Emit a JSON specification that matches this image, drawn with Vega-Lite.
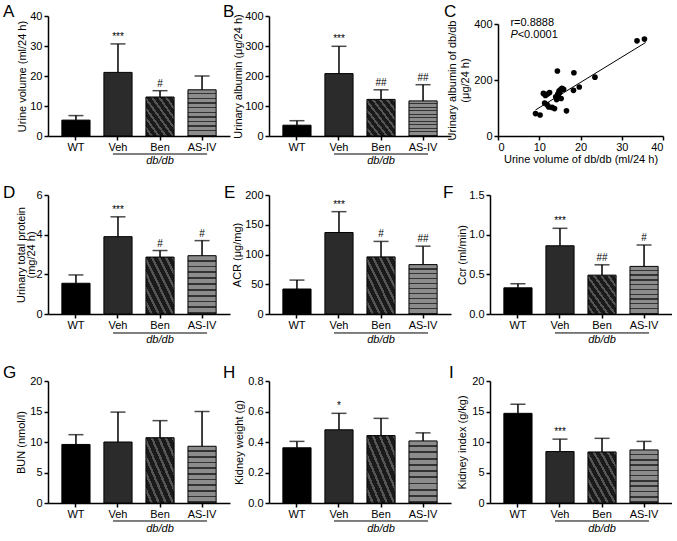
{
"$schema":"https://vega.github.io/schema/vega-lite/v6.json",
"padding":{"left":3,"top":3,"right":0,"bottom":0},
"background":"#ffffff",
"spacing":18,
"vconcat":[
{"hconcat":[
{"width":182,"height":120,
"title":{"text":"A","dx":-45,"dy":15},
"data":{"values":[{"g":"WT","m":5.3,"t":6.8,"s":""},{"g":"Veh","m":21.2,"t":30.7,"s":"***"},{"g":"Ben","m":13.0,"t":15.1,"s":"#"},{"g":"AS-IV","m":15.4,"t":20.0,"s":""}]},
"encoding":{
"x":{"field":"g","type":"nominal","sort":null,"scale":{"domain":["WT","Veh","Ben","AS-IV"],"paddingInner":0.33,"paddingOuter":0.33},"axis":{"title":null}},
"y":{"field":"m","type":"quantitative","scale":{"domain":[0,40]},"axis":{"title":"Urine volume (ml/24 h)","values":[0,10,20,30,40],"titleX":-26}}},
"layer":[
{"mark":{"type":"bar","stroke":"#000","strokeWidth":1},"encoding":{"fill":{"condition":[{"test":"datum.g==='Veh'","value":"#2b2b2b"},{"test":"datum.g==='Ben'","value":{"gradient":"linear","x1":0,"y1":1,"x2":1,"y2":0,"stops":[{"offset":0,"color":"#1a1a1a"},{"offset":0.081,"color":"#1a1a1a"},{"offset":0.081,"color":"#555555"},{"offset":0.125,"color":"#555555"},{"offset":0.125,"color":"#1a1a1a"},{"offset":0.206,"color":"#1a1a1a"},{"offset":0.206,"color":"#555555"},{"offset":0.25,"color":"#555555"},{"offset":0.25,"color":"#1a1a1a"},{"offset":0.331,"color":"#1a1a1a"},{"offset":0.331,"color":"#555555"},{"offset":0.375,"color":"#555555"},{"offset":0.375,"color":"#1a1a1a"},{"offset":0.456,"color":"#1a1a1a"},{"offset":0.456,"color":"#555555"},{"offset":0.5,"color":"#555555"},{"offset":0.5,"color":"#1a1a1a"},{"offset":0.581,"color":"#1a1a1a"},{"offset":0.581,"color":"#555555"},{"offset":0.625,"color":"#555555"},{"offset":0.625,"color":"#1a1a1a"},{"offset":0.706,"color":"#1a1a1a"},{"offset":0.706,"color":"#555555"},{"offset":0.75,"color":"#555555"},{"offset":0.75,"color":"#1a1a1a"},{"offset":0.831,"color":"#1a1a1a"},{"offset":0.831,"color":"#555555"},{"offset":0.875,"color":"#555555"},{"offset":0.875,"color":"#1a1a1a"},{"offset":0.956,"color":"#1a1a1a"},{"offset":0.956,"color":"#555555"},{"offset":1,"color":"#555555"}]}},{"test":"datum.g==='AS-IV'","value":{"gradient":"linear","x1":0,"y1":0,"x2":0,"y2":1,"stops":[{"offset":0,"color":"#8c8c8c"},{"offset":0.07,"color":"#8c8c8c"},{"offset":0.07,"color":"#333333"},{"offset":0.1,"color":"#333333"},{"offset":0.1,"color":"#8c8c8c"},{"offset":0.17,"color":"#8c8c8c"},{"offset":0.17,"color":"#333333"},{"offset":0.2,"color":"#333333"},{"offset":0.2,"color":"#8c8c8c"},{"offset":0.27,"color":"#8c8c8c"},{"offset":0.27,"color":"#333333"},{"offset":0.3,"color":"#333333"},{"offset":0.3,"color":"#8c8c8c"},{"offset":0.37,"color":"#8c8c8c"},{"offset":0.37,"color":"#333333"},{"offset":0.4,"color":"#333333"},{"offset":0.4,"color":"#8c8c8c"},{"offset":0.47,"color":"#8c8c8c"},{"offset":0.47,"color":"#333333"},{"offset":0.5,"color":"#333333"},{"offset":0.5,"color":"#8c8c8c"},{"offset":0.57,"color":"#8c8c8c"},{"offset":0.57,"color":"#333333"},{"offset":0.6,"color":"#333333"},{"offset":0.6,"color":"#8c8c8c"},{"offset":0.67,"color":"#8c8c8c"},{"offset":0.67,"color":"#333333"},{"offset":0.7,"color":"#333333"},{"offset":0.7,"color":"#8c8c8c"},{"offset":0.77,"color":"#8c8c8c"},{"offset":0.77,"color":"#333333"},{"offset":0.8,"color":"#333333"},{"offset":0.8,"color":"#8c8c8c"},{"offset":0.87,"color":"#8c8c8c"},{"offset":0.87,"color":"#333333"},{"offset":0.9,"color":"#333333"},{"offset":0.9,"color":"#8c8c8c"},{"offset":0.97,"color":"#8c8c8c"},{"offset":0.97,"color":"#333333"},{"offset":1,"color":"#333333"}]}}],"value":"#000000"}}},
{"mark":{"type":"rule","color":"#000","strokeWidth":1.5},"encoding":{"y2":{"field":"t"}}},
{"mark":{"type":"tick","color":"#000","size":15,"thickness":1.5},"encoding":{"y":{"field":"t","type":"quantitative"}}},
{"mark":{"type":"text","color":"#000","baseline":"bottom","dy":-2,"fontSize":10},"encoding":{"y":{"field":"t","type":"quantitative"},"text":{"field":"s"}}},
{"transform":[{"filter":"datum.g==='WT'"}],"mark":{"type":"rule","color":"#000","strokeWidth":1,"xOffset":-5,"x2Offset":5,"clip":false},"encoding":{"x":{"datum":"Veh"},"x2":{"datum":"AS-IV"},"y":{"datum":-6}}},
{"transform":[{"filter":"datum.g==='WT'"}],"mark":{"type":"text","color":"#000","fontStyle":"italic","fontSize":11,"baseline":"middle","clip":false},"encoding":{"x":{"datum":"Ben"},"y":{"datum":-8.3},"text":{"value":"db/db"}}}
]},
{"width":182,"height":120,
"title":{"text":"B","dx":-46,"dy":15},
"data":{"values":[{"g":"WT","m":36,"t":51,"s":""},{"g":"Veh","m":208,"t":299,"s":"***"},{"g":"Ben","m":122,"t":154,"s":"##"},{"g":"AS-IV","m":117,"t":171,"s":"##"}]},
"encoding":{
"x":{"field":"g","type":"nominal","sort":null,"scale":{"domain":["WT","Veh","Ben","AS-IV"],"paddingInner":0.33,"paddingOuter":0.33},"axis":{"title":null}},
"y":{"field":"m","type":"quantitative","scale":{"domain":[0,400]},"axis":{"title":"Urinary albumin (μg/24 h)","values":[0,100,200,300,400],"titleX":-31}}},
"layer":[
{"mark":{"type":"bar","stroke":"#000","strokeWidth":1},"encoding":{"fill":{"condition":[{"test":"datum.g==='Veh'","value":"#2b2b2b"},{"test":"datum.g==='Ben'","value":{"gradient":"linear","x1":0,"y1":1,"x2":1,"y2":0,"stops":[{"offset":0,"color":"#1a1a1a"},{"offset":0.081,"color":"#1a1a1a"},{"offset":0.081,"color":"#555555"},{"offset":0.125,"color":"#555555"},{"offset":0.125,"color":"#1a1a1a"},{"offset":0.206,"color":"#1a1a1a"},{"offset":0.206,"color":"#555555"},{"offset":0.25,"color":"#555555"},{"offset":0.25,"color":"#1a1a1a"},{"offset":0.331,"color":"#1a1a1a"},{"offset":0.331,"color":"#555555"},{"offset":0.375,"color":"#555555"},{"offset":0.375,"color":"#1a1a1a"},{"offset":0.456,"color":"#1a1a1a"},{"offset":0.456,"color":"#555555"},{"offset":0.5,"color":"#555555"},{"offset":0.5,"color":"#1a1a1a"},{"offset":0.581,"color":"#1a1a1a"},{"offset":0.581,"color":"#555555"},{"offset":0.625,"color":"#555555"},{"offset":0.625,"color":"#1a1a1a"},{"offset":0.706,"color":"#1a1a1a"},{"offset":0.706,"color":"#555555"},{"offset":0.75,"color":"#555555"},{"offset":0.75,"color":"#1a1a1a"},{"offset":0.831,"color":"#1a1a1a"},{"offset":0.831,"color":"#555555"},{"offset":0.875,"color":"#555555"},{"offset":0.875,"color":"#1a1a1a"},{"offset":0.956,"color":"#1a1a1a"},{"offset":0.956,"color":"#555555"},{"offset":1,"color":"#555555"}]}},{"test":"datum.g==='AS-IV'","value":{"gradient":"linear","x1":0,"y1":0,"x2":0,"y2":1,"stops":[{"offset":0,"color":"#8c8c8c"},{"offset":0.07,"color":"#8c8c8c"},{"offset":0.07,"color":"#333333"},{"offset":0.1,"color":"#333333"},{"offset":0.1,"color":"#8c8c8c"},{"offset":0.17,"color":"#8c8c8c"},{"offset":0.17,"color":"#333333"},{"offset":0.2,"color":"#333333"},{"offset":0.2,"color":"#8c8c8c"},{"offset":0.27,"color":"#8c8c8c"},{"offset":0.27,"color":"#333333"},{"offset":0.3,"color":"#333333"},{"offset":0.3,"color":"#8c8c8c"},{"offset":0.37,"color":"#8c8c8c"},{"offset":0.37,"color":"#333333"},{"offset":0.4,"color":"#333333"},{"offset":0.4,"color":"#8c8c8c"},{"offset":0.47,"color":"#8c8c8c"},{"offset":0.47,"color":"#333333"},{"offset":0.5,"color":"#333333"},{"offset":0.5,"color":"#8c8c8c"},{"offset":0.57,"color":"#8c8c8c"},{"offset":0.57,"color":"#333333"},{"offset":0.6,"color":"#333333"},{"offset":0.6,"color":"#8c8c8c"},{"offset":0.67,"color":"#8c8c8c"},{"offset":0.67,"color":"#333333"},{"offset":0.7,"color":"#333333"},{"offset":0.7,"color":"#8c8c8c"},{"offset":0.77,"color":"#8c8c8c"},{"offset":0.77,"color":"#333333"},{"offset":0.8,"color":"#333333"},{"offset":0.8,"color":"#8c8c8c"},{"offset":0.87,"color":"#8c8c8c"},{"offset":0.87,"color":"#333333"},{"offset":0.9,"color":"#333333"},{"offset":0.9,"color":"#8c8c8c"},{"offset":0.97,"color":"#8c8c8c"},{"offset":0.97,"color":"#333333"},{"offset":1,"color":"#333333"}]}}],"value":"#000000"}}},
{"mark":{"type":"rule","color":"#000","strokeWidth":1.5},"encoding":{"y2":{"field":"t"}}},
{"mark":{"type":"tick","color":"#000","size":15,"thickness":1.5},"encoding":{"y":{"field":"t","type":"quantitative"}}},
{"mark":{"type":"text","color":"#000","baseline":"bottom","dy":-2,"fontSize":10},"encoding":{"y":{"field":"t","type":"quantitative"},"text":{"field":"s"}}},
{"transform":[{"filter":"datum.g==='WT'"}],"mark":{"type":"rule","color":"#000","strokeWidth":1,"xOffset":-5,"x2Offset":5,"clip":false},"encoding":{"x":{"datum":"Veh"},"x2":{"datum":"AS-IV"},"y":{"datum":-60}}},
{"transform":[{"filter":"datum.g==='WT'"}],"mark":{"type":"text","color":"#000","fontStyle":"italic","fontSize":11,"baseline":"middle","clip":false},"encoding":{"x":{"datum":"Ben"},"y":{"datum":-83},"text":{"value":"db/db"}}}
]},
{"width":173,"height":120,
"title":{"text":"C","dx":-46,"dy":9},
"layer":[
{"data":{"values":[{"x":9.1,"y":80},{"x":10.2,"y":75},{"x":11.0,"y":152},{"x":12.0,"y":150},{"x":11.5,"y":145},{"x":12.5,"y":155},{"x":11.3,"y":118},{"x":11.9,"y":112},{"x":12.3,"y":104},{"x":13.1,"y":102},{"x":13.7,"y":98},{"x":14.4,"y":232},{"x":14.0,"y":140},{"x":14.2,"y":130},{"x":14.5,"y":150},{"x":14.8,"y":160},{"x":15.1,"y":165},{"x":15.5,"y":170},{"x":15.9,"y":167},{"x":15.3,"y":134},{"x":16.6,"y":90},{"x":18.4,"y":226},{"x":18.3,"y":163},{"x":19.7,"y":175},{"x":23.5,"y":210},{"x":33.7,"y":340},{"x":35.5,"y":346},{"x":14.6,"y":145},{"x":15.0,"y":155}]},
"mark":{"type":"circle","size":32,"color":"#000","opacity":1},
"encoding":{
"x":{"field":"x","type":"quantitative","scale":{"domain":[0,40],"range":[8,173]},"axis":{"title":"Urine volume of db/db (ml/24 h)","values":[0,10,20,30,40],"titlePadding":1}},
"y":{"field":"y","type":"quantitative","scale":{"domain":[0,400],"range":[120,8]},"axis":{"title":["Urinary albumin of db/db","(μg/24 h)"],"values":[0,100,200,300,400],"offset":-8,"titleX":-46,"titleLineHeight":13}}}},
{"data":{"values":[{"x":9.1,"y":93},{"x":35.8,"y":334}]},"mark":{"type":"line","color":"#000","strokeWidth":1},"encoding":{"x":{"field":"x","type":"quantitative"},"y":{"field":"y","type":"quantitative"}}},
{"data":{"values":[{"x":3,"y":402,"l":"r=0.8888"}]},"mark":{"type":"text","color":"#000","align":"left","baseline":"middle","fontSize":11},"encoding":{"x":{"field":"x","type":"quantitative"},"y":{"field":"y","type":"quantitative"},"text":{"field":"l"}}},
{"data":{"values":[{"x":3,"y":362,"l":"P"}]},"mark":{"type":"text","color":"#000","align":"left","baseline":"middle","fontSize":11,"fontStyle":"italic"},"encoding":{"x":{"field":"x","type":"quantitative"},"y":{"field":"y","type":"quantitative"},"text":{"field":"l"}}},
{"data":{"values":[{"x":3,"y":362,"l":"<0.0001"}]},"mark":{"type":"text","color":"#000","align":"left","baseline":"middle","fontSize":11,"dx":7.3},"encoding":{"x":{"field":"x","type":"quantitative"},"y":{"field":"y","type":"quantitative"},"text":{"field":"l"}}}
]}
],"spacing":39,"bounds":"flush"},
{"hconcat":[
{"width":182,"height":119,
"title":{"text":"D","dx":-45,"dy":17},
"data":{"values":[{"g":"WT","m":1.55,"t":1.97,"s":""},{"g":"Veh","m":3.9,"t":4.9,"s":"***"},{"g":"Ben","m":2.87,"t":3.2,"s":"#"},{"g":"AS-IV","m":2.94,"t":3.7,"s":"#"}]},
"encoding":{
"x":{"field":"g","type":"nominal","sort":null,"scale":{"domain":["WT","Veh","Ben","AS-IV"],"paddingInner":0.33,"paddingOuter":0.33},"axis":{"title":null}},
"y":{"field":"m","type":"quantitative","scale":{"domain":[0,6]},"axis":{"title":["Urinary total protein","(mg/24 h)"],"values":[0,2,4,6],"titleX":-27,"titleLineHeight":10.5}}},
"layer":[
{"mark":{"type":"bar","stroke":"#000","strokeWidth":1},"encoding":{"fill":{"condition":[{"test":"datum.g==='Veh'","value":"#2b2b2b"},{"test":"datum.g==='Ben'","value":{"gradient":"linear","x1":0,"y1":1,"x2":1,"y2":0,"stops":[{"offset":0,"color":"#1a1a1a"},{"offset":0.081,"color":"#1a1a1a"},{"offset":0.081,"color":"#555555"},{"offset":0.125,"color":"#555555"},{"offset":0.125,"color":"#1a1a1a"},{"offset":0.206,"color":"#1a1a1a"},{"offset":0.206,"color":"#555555"},{"offset":0.25,"color":"#555555"},{"offset":0.25,"color":"#1a1a1a"},{"offset":0.331,"color":"#1a1a1a"},{"offset":0.331,"color":"#555555"},{"offset":0.375,"color":"#555555"},{"offset":0.375,"color":"#1a1a1a"},{"offset":0.456,"color":"#1a1a1a"},{"offset":0.456,"color":"#555555"},{"offset":0.5,"color":"#555555"},{"offset":0.5,"color":"#1a1a1a"},{"offset":0.581,"color":"#1a1a1a"},{"offset":0.581,"color":"#555555"},{"offset":0.625,"color":"#555555"},{"offset":0.625,"color":"#1a1a1a"},{"offset":0.706,"color":"#1a1a1a"},{"offset":0.706,"color":"#555555"},{"offset":0.75,"color":"#555555"},{"offset":0.75,"color":"#1a1a1a"},{"offset":0.831,"color":"#1a1a1a"},{"offset":0.831,"color":"#555555"},{"offset":0.875,"color":"#555555"},{"offset":0.875,"color":"#1a1a1a"},{"offset":0.956,"color":"#1a1a1a"},{"offset":0.956,"color":"#555555"},{"offset":1,"color":"#555555"}]}},{"test":"datum.g==='AS-IV'","value":{"gradient":"linear","x1":0,"y1":0,"x2":0,"y2":1,"stops":[{"offset":0,"color":"#8c8c8c"},{"offset":0.07,"color":"#8c8c8c"},{"offset":0.07,"color":"#333333"},{"offset":0.1,"color":"#333333"},{"offset":0.1,"color":"#8c8c8c"},{"offset":0.17,"color":"#8c8c8c"},{"offset":0.17,"color":"#333333"},{"offset":0.2,"color":"#333333"},{"offset":0.2,"color":"#8c8c8c"},{"offset":0.27,"color":"#8c8c8c"},{"offset":0.27,"color":"#333333"},{"offset":0.3,"color":"#333333"},{"offset":0.3,"color":"#8c8c8c"},{"offset":0.37,"color":"#8c8c8c"},{"offset":0.37,"color":"#333333"},{"offset":0.4,"color":"#333333"},{"offset":0.4,"color":"#8c8c8c"},{"offset":0.47,"color":"#8c8c8c"},{"offset":0.47,"color":"#333333"},{"offset":0.5,"color":"#333333"},{"offset":0.5,"color":"#8c8c8c"},{"offset":0.57,"color":"#8c8c8c"},{"offset":0.57,"color":"#333333"},{"offset":0.6,"color":"#333333"},{"offset":0.6,"color":"#8c8c8c"},{"offset":0.67,"color":"#8c8c8c"},{"offset":0.67,"color":"#333333"},{"offset":0.7,"color":"#333333"},{"offset":0.7,"color":"#8c8c8c"},{"offset":0.77,"color":"#8c8c8c"},{"offset":0.77,"color":"#333333"},{"offset":0.8,"color":"#333333"},{"offset":0.8,"color":"#8c8c8c"},{"offset":0.87,"color":"#8c8c8c"},{"offset":0.87,"color":"#333333"},{"offset":0.9,"color":"#333333"},{"offset":0.9,"color":"#8c8c8c"},{"offset":0.97,"color":"#8c8c8c"},{"offset":0.97,"color":"#333333"},{"offset":1,"color":"#333333"}]}}],"value":"#000000"}}},
{"mark":{"type":"rule","color":"#000","strokeWidth":1.5},"encoding":{"y2":{"field":"t"}}},
{"mark":{"type":"tick","color":"#000","size":15,"thickness":1.5},"encoding":{"y":{"field":"t","type":"quantitative"}}},
{"mark":{"type":"text","color":"#000","baseline":"bottom","dy":-2,"fontSize":10},"encoding":{"y":{"field":"t","type":"quantitative"},"text":{"field":"s"}}},
{"transform":[{"filter":"datum.g==='WT'"}],"mark":{"type":"rule","color":"#000","strokeWidth":1,"xOffset":-5,"x2Offset":5,"clip":false},"encoding":{"x":{"datum":"Veh"},"x2":{"datum":"AS-IV"},"y":{"datum":-0.958}}},
{"transform":[{"filter":"datum.g==='WT'"}],"mark":{"type":"text","color":"#000","fontStyle":"italic","fontSize":11,"baseline":"middle","clip":false},"encoding":{"x":{"datum":"Ben"},"y":{"datum":-1.31},"text":{"value":"db/db"}}}
]},
{"width":182,"height":119,
"title":{"text":"E","dx":-45,"dy":17},
"data":{"values":[{"g":"WT","m":42,"t":57,"s":""},{"g":"Veh","m":137,"t":172,"s":"***"},{"g":"Ben","m":96,"t":122,"s":"#"},{"g":"AS-IV","m":83,"t":114,"s":"##"}]},
"encoding":{
"x":{"field":"g","type":"nominal","sort":null,"scale":{"domain":["WT","Veh","Ben","AS-IV"],"paddingInner":0.33,"paddingOuter":0.33},"axis":{"title":null}},
"y":{"field":"m","type":"quantitative","scale":{"domain":[0,200]},"axis":{"title":"ACR (μg/mg)","values":[0,50,100,150,200],"titleX":-32}}},
"layer":[
{"mark":{"type":"bar","stroke":"#000","strokeWidth":1},"encoding":{"fill":{"condition":[{"test":"datum.g==='Veh'","value":"#2b2b2b"},{"test":"datum.g==='Ben'","value":{"gradient":"linear","x1":0,"y1":1,"x2":1,"y2":0,"stops":[{"offset":0,"color":"#1a1a1a"},{"offset":0.081,"color":"#1a1a1a"},{"offset":0.081,"color":"#555555"},{"offset":0.125,"color":"#555555"},{"offset":0.125,"color":"#1a1a1a"},{"offset":0.206,"color":"#1a1a1a"},{"offset":0.206,"color":"#555555"},{"offset":0.25,"color":"#555555"},{"offset":0.25,"color":"#1a1a1a"},{"offset":0.331,"color":"#1a1a1a"},{"offset":0.331,"color":"#555555"},{"offset":0.375,"color":"#555555"},{"offset":0.375,"color":"#1a1a1a"},{"offset":0.456,"color":"#1a1a1a"},{"offset":0.456,"color":"#555555"},{"offset":0.5,"color":"#555555"},{"offset":0.5,"color":"#1a1a1a"},{"offset":0.581,"color":"#1a1a1a"},{"offset":0.581,"color":"#555555"},{"offset":0.625,"color":"#555555"},{"offset":0.625,"color":"#1a1a1a"},{"offset":0.706,"color":"#1a1a1a"},{"offset":0.706,"color":"#555555"},{"offset":0.75,"color":"#555555"},{"offset":0.75,"color":"#1a1a1a"},{"offset":0.831,"color":"#1a1a1a"},{"offset":0.831,"color":"#555555"},{"offset":0.875,"color":"#555555"},{"offset":0.875,"color":"#1a1a1a"},{"offset":0.956,"color":"#1a1a1a"},{"offset":0.956,"color":"#555555"},{"offset":1,"color":"#555555"}]}},{"test":"datum.g==='AS-IV'","value":{"gradient":"linear","x1":0,"y1":0,"x2":0,"y2":1,"stops":[{"offset":0,"color":"#8c8c8c"},{"offset":0.07,"color":"#8c8c8c"},{"offset":0.07,"color":"#333333"},{"offset":0.1,"color":"#333333"},{"offset":0.1,"color":"#8c8c8c"},{"offset":0.17,"color":"#8c8c8c"},{"offset":0.17,"color":"#333333"},{"offset":0.2,"color":"#333333"},{"offset":0.2,"color":"#8c8c8c"},{"offset":0.27,"color":"#8c8c8c"},{"offset":0.27,"color":"#333333"},{"offset":0.3,"color":"#333333"},{"offset":0.3,"color":"#8c8c8c"},{"offset":0.37,"color":"#8c8c8c"},{"offset":0.37,"color":"#333333"},{"offset":0.4,"color":"#333333"},{"offset":0.4,"color":"#8c8c8c"},{"offset":0.47,"color":"#8c8c8c"},{"offset":0.47,"color":"#333333"},{"offset":0.5,"color":"#333333"},{"offset":0.5,"color":"#8c8c8c"},{"offset":0.57,"color":"#8c8c8c"},{"offset":0.57,"color":"#333333"},{"offset":0.6,"color":"#333333"},{"offset":0.6,"color":"#8c8c8c"},{"offset":0.67,"color":"#8c8c8c"},{"offset":0.67,"color":"#333333"},{"offset":0.7,"color":"#333333"},{"offset":0.7,"color":"#8c8c8c"},{"offset":0.77,"color":"#8c8c8c"},{"offset":0.77,"color":"#333333"},{"offset":0.8,"color":"#333333"},{"offset":0.8,"color":"#8c8c8c"},{"offset":0.87,"color":"#8c8c8c"},{"offset":0.87,"color":"#333333"},{"offset":0.9,"color":"#333333"},{"offset":0.9,"color":"#8c8c8c"},{"offset":0.97,"color":"#8c8c8c"},{"offset":0.97,"color":"#333333"},{"offset":1,"color":"#333333"}]}}],"value":"#000000"}}},
{"mark":{"type":"rule","color":"#000","strokeWidth":1.5},"encoding":{"y2":{"field":"t"}}},
{"mark":{"type":"tick","color":"#000","size":15,"thickness":1.5},"encoding":{"y":{"field":"t","type":"quantitative"}}},
{"mark":{"type":"text","color":"#000","baseline":"bottom","dy":-2,"fontSize":10},"encoding":{"y":{"field":"t","type":"quantitative"},"text":{"field":"s"}}},
{"transform":[{"filter":"datum.g==='WT'"}],"mark":{"type":"rule","color":"#000","strokeWidth":1,"xOffset":-5,"x2Offset":5,"clip":false},"encoding":{"x":{"datum":"Veh"},"x2":{"datum":"AS-IV"},"y":{"datum":-31.9}}},
{"transform":[{"filter":"datum.g==='WT'"}],"mark":{"type":"text","color":"#000","fontStyle":"italic","fontSize":11,"baseline":"middle","clip":false},"encoding":{"x":{"datum":"Ben"},"y":{"datum":-43.7},"text":{"value":"db/db"}}}
]},
{"width":182,"height":119,
"title":{"text":"F","dx":-47,"dy":17},
"data":{"values":[{"g":"WT","m":0.33,"t":0.38,"s":""},{"g":"Veh","m":0.86,"t":1.08,"s":"***"},{"g":"Ben","m":0.49,"t":0.62,"s":"##"},{"g":"AS-IV","m":0.6,"t":0.87,"s":"#"}]},
"encoding":{
"x":{"field":"g","type":"nominal","sort":null,"scale":{"domain":["WT","Veh","Ben","AS-IV"],"paddingInner":0.33,"paddingOuter":0.33},"axis":{"title":null}},
"y":{"field":"m","type":"quantitative","scale":{"domain":[0,1.5]},"axis":{"title":"Ccr (ml/min)","values":[0,0.5,1,1.5],"format":".1f","titleX":-28}}},
"layer":[
{"mark":{"type":"bar","stroke":"#000","strokeWidth":1},"encoding":{"fill":{"condition":[{"test":"datum.g==='Veh'","value":"#2b2b2b"},{"test":"datum.g==='Ben'","value":{"gradient":"linear","x1":0,"y1":1,"x2":1,"y2":0,"stops":[{"offset":0,"color":"#1a1a1a"},{"offset":0.081,"color":"#1a1a1a"},{"offset":0.081,"color":"#555555"},{"offset":0.125,"color":"#555555"},{"offset":0.125,"color":"#1a1a1a"},{"offset":0.206,"color":"#1a1a1a"},{"offset":0.206,"color":"#555555"},{"offset":0.25,"color":"#555555"},{"offset":0.25,"color":"#1a1a1a"},{"offset":0.331,"color":"#1a1a1a"},{"offset":0.331,"color":"#555555"},{"offset":0.375,"color":"#555555"},{"offset":0.375,"color":"#1a1a1a"},{"offset":0.456,"color":"#1a1a1a"},{"offset":0.456,"color":"#555555"},{"offset":0.5,"color":"#555555"},{"offset":0.5,"color":"#1a1a1a"},{"offset":0.581,"color":"#1a1a1a"},{"offset":0.581,"color":"#555555"},{"offset":0.625,"color":"#555555"},{"offset":0.625,"color":"#1a1a1a"},{"offset":0.706,"color":"#1a1a1a"},{"offset":0.706,"color":"#555555"},{"offset":0.75,"color":"#555555"},{"offset":0.75,"color":"#1a1a1a"},{"offset":0.831,"color":"#1a1a1a"},{"offset":0.831,"color":"#555555"},{"offset":0.875,"color":"#555555"},{"offset":0.875,"color":"#1a1a1a"},{"offset":0.956,"color":"#1a1a1a"},{"offset":0.956,"color":"#555555"},{"offset":1,"color":"#555555"}]}},{"test":"datum.g==='AS-IV'","value":{"gradient":"linear","x1":0,"y1":0,"x2":0,"y2":1,"stops":[{"offset":0,"color":"#8c8c8c"},{"offset":0.07,"color":"#8c8c8c"},{"offset":0.07,"color":"#333333"},{"offset":0.1,"color":"#333333"},{"offset":0.1,"color":"#8c8c8c"},{"offset":0.17,"color":"#8c8c8c"},{"offset":0.17,"color":"#333333"},{"offset":0.2,"color":"#333333"},{"offset":0.2,"color":"#8c8c8c"},{"offset":0.27,"color":"#8c8c8c"},{"offset":0.27,"color":"#333333"},{"offset":0.3,"color":"#333333"},{"offset":0.3,"color":"#8c8c8c"},{"offset":0.37,"color":"#8c8c8c"},{"offset":0.37,"color":"#333333"},{"offset":0.4,"color":"#333333"},{"offset":0.4,"color":"#8c8c8c"},{"offset":0.47,"color":"#8c8c8c"},{"offset":0.47,"color":"#333333"},{"offset":0.5,"color":"#333333"},{"offset":0.5,"color":"#8c8c8c"},{"offset":0.57,"color":"#8c8c8c"},{"offset":0.57,"color":"#333333"},{"offset":0.6,"color":"#333333"},{"offset":0.6,"color":"#8c8c8c"},{"offset":0.67,"color":"#8c8c8c"},{"offset":0.67,"color":"#333333"},{"offset":0.7,"color":"#333333"},{"offset":0.7,"color":"#8c8c8c"},{"offset":0.77,"color":"#8c8c8c"},{"offset":0.77,"color":"#333333"},{"offset":0.8,"color":"#333333"},{"offset":0.8,"color":"#8c8c8c"},{"offset":0.87,"color":"#8c8c8c"},{"offset":0.87,"color":"#333333"},{"offset":0.9,"color":"#333333"},{"offset":0.9,"color":"#8c8c8c"},{"offset":0.97,"color":"#8c8c8c"},{"offset":0.97,"color":"#333333"},{"offset":1,"color":"#333333"}]}}],"value":"#000000"}}},
{"mark":{"type":"rule","color":"#000","strokeWidth":1.5},"encoding":{"y2":{"field":"t"}}},
{"mark":{"type":"tick","color":"#000","size":15,"thickness":1.5},"encoding":{"y":{"field":"t","type":"quantitative"}}},
{"mark":{"type":"text","color":"#000","baseline":"bottom","dy":-2,"fontSize":10},"encoding":{"y":{"field":"t","type":"quantitative"},"text":{"field":"s"}}},
{"transform":[{"filter":"datum.g==='WT'"}],"mark":{"type":"rule","color":"#000","strokeWidth":1,"xOffset":-5,"x2Offset":5,"clip":false},"encoding":{"x":{"datum":"Veh"},"x2":{"datum":"AS-IV"},"y":{"datum":-0.239}}},
{"transform":[{"filter":"datum.g==='WT'"}],"mark":{"type":"text","color":"#000","fontStyle":"italic","fontSize":11,"baseline":"middle","clip":false},"encoding":{"x":{"datum":"Ben"},"y":{"datum":-0.328},"text":{"value":"db/db"}}}
]}
],"spacing":39,"bounds":"flush"},
{"hconcat":[
{"width":182,"height":122,
"title":{"text":"G","dx":-45,"dy":11},
"data":{"values":[{"g":"WT","m":9.6,"t":11.2,"s":""},{"g":"Veh","m":10.0,"t":14.9,"s":""},{"g":"Ben","m":10.7,"t":13.5,"s":""},{"g":"AS-IV","m":9.3,"t":15.0,"s":""}]},
"encoding":{
"x":{"field":"g","type":"nominal","sort":null,"scale":{"domain":["WT","Veh","Ben","AS-IV"],"paddingInner":0.33,"paddingOuter":0.33},"axis":{"title":null}},
"y":{"field":"m","type":"quantitative","scale":{"domain":[0,20]},"axis":{"title":"BUN (nmol/l)","values":[0,5,10,15,20],"titleX":-27}}},
"layer":[
{"mark":{"type":"bar","stroke":"#000","strokeWidth":1},"encoding":{"fill":{"condition":[{"test":"datum.g==='Veh'","value":"#2b2b2b"},{"test":"datum.g==='Ben'","value":{"gradient":"linear","x1":0,"y1":1,"x2":1,"y2":0,"stops":[{"offset":0,"color":"#1a1a1a"},{"offset":0.081,"color":"#1a1a1a"},{"offset":0.081,"color":"#555555"},{"offset":0.125,"color":"#555555"},{"offset":0.125,"color":"#1a1a1a"},{"offset":0.206,"color":"#1a1a1a"},{"offset":0.206,"color":"#555555"},{"offset":0.25,"color":"#555555"},{"offset":0.25,"color":"#1a1a1a"},{"offset":0.331,"color":"#1a1a1a"},{"offset":0.331,"color":"#555555"},{"offset":0.375,"color":"#555555"},{"offset":0.375,"color":"#1a1a1a"},{"offset":0.456,"color":"#1a1a1a"},{"offset":0.456,"color":"#555555"},{"offset":0.5,"color":"#555555"},{"offset":0.5,"color":"#1a1a1a"},{"offset":0.581,"color":"#1a1a1a"},{"offset":0.581,"color":"#555555"},{"offset":0.625,"color":"#555555"},{"offset":0.625,"color":"#1a1a1a"},{"offset":0.706,"color":"#1a1a1a"},{"offset":0.706,"color":"#555555"},{"offset":0.75,"color":"#555555"},{"offset":0.75,"color":"#1a1a1a"},{"offset":0.831,"color":"#1a1a1a"},{"offset":0.831,"color":"#555555"},{"offset":0.875,"color":"#555555"},{"offset":0.875,"color":"#1a1a1a"},{"offset":0.956,"color":"#1a1a1a"},{"offset":0.956,"color":"#555555"},{"offset":1,"color":"#555555"}]}},{"test":"datum.g==='AS-IV'","value":{"gradient":"linear","x1":0,"y1":0,"x2":0,"y2":1,"stops":[{"offset":0,"color":"#8c8c8c"},{"offset":0.07,"color":"#8c8c8c"},{"offset":0.07,"color":"#333333"},{"offset":0.1,"color":"#333333"},{"offset":0.1,"color":"#8c8c8c"},{"offset":0.17,"color":"#8c8c8c"},{"offset":0.17,"color":"#333333"},{"offset":0.2,"color":"#333333"},{"offset":0.2,"color":"#8c8c8c"},{"offset":0.27,"color":"#8c8c8c"},{"offset":0.27,"color":"#333333"},{"offset":0.3,"color":"#333333"},{"offset":0.3,"color":"#8c8c8c"},{"offset":0.37,"color":"#8c8c8c"},{"offset":0.37,"color":"#333333"},{"offset":0.4,"color":"#333333"},{"offset":0.4,"color":"#8c8c8c"},{"offset":0.47,"color":"#8c8c8c"},{"offset":0.47,"color":"#333333"},{"offset":0.5,"color":"#333333"},{"offset":0.5,"color":"#8c8c8c"},{"offset":0.57,"color":"#8c8c8c"},{"offset":0.57,"color":"#333333"},{"offset":0.6,"color":"#333333"},{"offset":0.6,"color":"#8c8c8c"},{"offset":0.67,"color":"#8c8c8c"},{"offset":0.67,"color":"#333333"},{"offset":0.7,"color":"#333333"},{"offset":0.7,"color":"#8c8c8c"},{"offset":0.77,"color":"#8c8c8c"},{"offset":0.77,"color":"#333333"},{"offset":0.8,"color":"#333333"},{"offset":0.8,"color":"#8c8c8c"},{"offset":0.87,"color":"#8c8c8c"},{"offset":0.87,"color":"#333333"},{"offset":0.9,"color":"#333333"},{"offset":0.9,"color":"#8c8c8c"},{"offset":0.97,"color":"#8c8c8c"},{"offset":0.97,"color":"#333333"},{"offset":1,"color":"#333333"}]}}],"value":"#000000"}}},
{"mark":{"type":"rule","color":"#000","strokeWidth":1.5},"encoding":{"y2":{"field":"t"}}},
{"mark":{"type":"tick","color":"#000","size":15,"thickness":1.5},"encoding":{"y":{"field":"t","type":"quantitative"}}},
{"transform":[{"filter":"datum.g==='WT'"}],"mark":{"type":"rule","color":"#000","strokeWidth":1,"xOffset":-5,"x2Offset":5,"clip":false},"encoding":{"x":{"datum":"Veh"},"x2":{"datum":"AS-IV"},"y":{"datum":-2.95}}},
{"transform":[{"filter":"datum.g==='WT'"}],"mark":{"type":"text","color":"#000","fontStyle":"italic","fontSize":11,"baseline":"middle","clip":false},"encoding":{"x":{"datum":"Ben"},"y":{"datum":-4.26},"text":{"value":"db/db"}}}
]},
{"width":182,"height":122,
"title":{"text":"H","dx":-46,"dy":11},
"data":{"values":[{"g":"WT","m":0.362,"t":0.404,"s":""},{"g":"Veh","m":0.48,"t":0.588,"s":"*"},{"g":"Ben","m":0.442,"t":0.555,"s":""},{"g":"AS-IV","m":0.407,"t":0.46,"s":""}]},
"encoding":{
"x":{"field":"g","type":"nominal","sort":null,"scale":{"domain":["WT","Veh","Ben","AS-IV"],"paddingInner":0.33,"paddingOuter":0.33},"axis":{"title":null}},
"y":{"field":"m","type":"quantitative","scale":{"domain":[0,0.8]},"axis":{"title":"Kidney weight (g)","values":[0,0.2,0.4,0.6,0.8],"format":".1f","titleX":-30}}},
"layer":[
{"mark":{"type":"bar","stroke":"#000","strokeWidth":1},"encoding":{"fill":{"condition":[{"test":"datum.g==='Veh'","value":"#2b2b2b"},{"test":"datum.g==='Ben'","value":{"gradient":"linear","x1":0,"y1":1,"x2":1,"y2":0,"stops":[{"offset":0,"color":"#1a1a1a"},{"offset":0.081,"color":"#1a1a1a"},{"offset":0.081,"color":"#555555"},{"offset":0.125,"color":"#555555"},{"offset":0.125,"color":"#1a1a1a"},{"offset":0.206,"color":"#1a1a1a"},{"offset":0.206,"color":"#555555"},{"offset":0.25,"color":"#555555"},{"offset":0.25,"color":"#1a1a1a"},{"offset":0.331,"color":"#1a1a1a"},{"offset":0.331,"color":"#555555"},{"offset":0.375,"color":"#555555"},{"offset":0.375,"color":"#1a1a1a"},{"offset":0.456,"color":"#1a1a1a"},{"offset":0.456,"color":"#555555"},{"offset":0.5,"color":"#555555"},{"offset":0.5,"color":"#1a1a1a"},{"offset":0.581,"color":"#1a1a1a"},{"offset":0.581,"color":"#555555"},{"offset":0.625,"color":"#555555"},{"offset":0.625,"color":"#1a1a1a"},{"offset":0.706,"color":"#1a1a1a"},{"offset":0.706,"color":"#555555"},{"offset":0.75,"color":"#555555"},{"offset":0.75,"color":"#1a1a1a"},{"offset":0.831,"color":"#1a1a1a"},{"offset":0.831,"color":"#555555"},{"offset":0.875,"color":"#555555"},{"offset":0.875,"color":"#1a1a1a"},{"offset":0.956,"color":"#1a1a1a"},{"offset":0.956,"color":"#555555"},{"offset":1,"color":"#555555"}]}},{"test":"datum.g==='AS-IV'","value":{"gradient":"linear","x1":0,"y1":0,"x2":0,"y2":1,"stops":[{"offset":0,"color":"#8c8c8c"},{"offset":0.07,"color":"#8c8c8c"},{"offset":0.07,"color":"#333333"},{"offset":0.1,"color":"#333333"},{"offset":0.1,"color":"#8c8c8c"},{"offset":0.17,"color":"#8c8c8c"},{"offset":0.17,"color":"#333333"},{"offset":0.2,"color":"#333333"},{"offset":0.2,"color":"#8c8c8c"},{"offset":0.27,"color":"#8c8c8c"},{"offset":0.27,"color":"#333333"},{"offset":0.3,"color":"#333333"},{"offset":0.3,"color":"#8c8c8c"},{"offset":0.37,"color":"#8c8c8c"},{"offset":0.37,"color":"#333333"},{"offset":0.4,"color":"#333333"},{"offset":0.4,"color":"#8c8c8c"},{"offset":0.47,"color":"#8c8c8c"},{"offset":0.47,"color":"#333333"},{"offset":0.5,"color":"#333333"},{"offset":0.5,"color":"#8c8c8c"},{"offset":0.57,"color":"#8c8c8c"},{"offset":0.57,"color":"#333333"},{"offset":0.6,"color":"#333333"},{"offset":0.6,"color":"#8c8c8c"},{"offset":0.67,"color":"#8c8c8c"},{"offset":0.67,"color":"#333333"},{"offset":0.7,"color":"#333333"},{"offset":0.7,"color":"#8c8c8c"},{"offset":0.77,"color":"#8c8c8c"},{"offset":0.77,"color":"#333333"},{"offset":0.8,"color":"#333333"},{"offset":0.8,"color":"#8c8c8c"},{"offset":0.87,"color":"#8c8c8c"},{"offset":0.87,"color":"#333333"},{"offset":0.9,"color":"#333333"},{"offset":0.9,"color":"#8c8c8c"},{"offset":0.97,"color":"#8c8c8c"},{"offset":0.97,"color":"#333333"},{"offset":1,"color":"#333333"}]}}],"value":"#000000"}}},
{"mark":{"type":"rule","color":"#000","strokeWidth":1.5},"encoding":{"y2":{"field":"t"}}},
{"mark":{"type":"tick","color":"#000","size":15,"thickness":1.5},"encoding":{"y":{"field":"t","type":"quantitative"}}},
{"mark":{"type":"text","color":"#000","baseline":"bottom","dy":-2,"fontSize":10},"encoding":{"y":{"field":"t","type":"quantitative"},"text":{"field":"s"}}},
{"transform":[{"filter":"datum.g==='WT'"}],"mark":{"type":"rule","color":"#000","strokeWidth":1,"xOffset":-5,"x2Offset":5,"clip":false},"encoding":{"x":{"datum":"Veh"},"x2":{"datum":"AS-IV"},"y":{"datum":-0.118}}},
{"transform":[{"filter":"datum.g==='WT'"}],"mark":{"type":"text","color":"#000","fontStyle":"italic","fontSize":11,"baseline":"middle","clip":false},"encoding":{"x":{"datum":"Ben"},"y":{"datum":-0.17},"text":{"value":"db/db"}}}
]},
{"width":182,"height":122,
"title":{"text":"I","dx":-41,"dy":11},
"data":{"values":[{"g":"WT","m":14.7,"t":16.2,"s":""},{"g":"Veh","m":8.43,"t":10.47,"s":"***"},{"g":"Ben","m":8.37,"t":10.6,"s":""},{"g":"AS-IV","m":8.7,"t":10.1,"s":""}]},
"encoding":{
"x":{"field":"g","type":"nominal","sort":null,"scale":{"domain":["WT","Veh","Ben","AS-IV"],"paddingInner":0.33,"paddingOuter":0.33},"axis":{"title":null}},
"y":{"field":"m","type":"quantitative","scale":{"domain":[0,20]},"axis":{"title":"Kidney index (g/kg)","values":[0,5,10,15,20],"titleX":-28}}},
"layer":[
{"mark":{"type":"bar","stroke":"#000","strokeWidth":1},"encoding":{"fill":{"condition":[{"test":"datum.g==='Veh'","value":"#2b2b2b"},{"test":"datum.g==='Ben'","value":{"gradient":"linear","x1":0,"y1":1,"x2":1,"y2":0,"stops":[{"offset":0,"color":"#1a1a1a"},{"offset":0.081,"color":"#1a1a1a"},{"offset":0.081,"color":"#555555"},{"offset":0.125,"color":"#555555"},{"offset":0.125,"color":"#1a1a1a"},{"offset":0.206,"color":"#1a1a1a"},{"offset":0.206,"color":"#555555"},{"offset":0.25,"color":"#555555"},{"offset":0.25,"color":"#1a1a1a"},{"offset":0.331,"color":"#1a1a1a"},{"offset":0.331,"color":"#555555"},{"offset":0.375,"color":"#555555"},{"offset":0.375,"color":"#1a1a1a"},{"offset":0.456,"color":"#1a1a1a"},{"offset":0.456,"color":"#555555"},{"offset":0.5,"color":"#555555"},{"offset":0.5,"color":"#1a1a1a"},{"offset":0.581,"color":"#1a1a1a"},{"offset":0.581,"color":"#555555"},{"offset":0.625,"color":"#555555"},{"offset":0.625,"color":"#1a1a1a"},{"offset":0.706,"color":"#1a1a1a"},{"offset":0.706,"color":"#555555"},{"offset":0.75,"color":"#555555"},{"offset":0.75,"color":"#1a1a1a"},{"offset":0.831,"color":"#1a1a1a"},{"offset":0.831,"color":"#555555"},{"offset":0.875,"color":"#555555"},{"offset":0.875,"color":"#1a1a1a"},{"offset":0.956,"color":"#1a1a1a"},{"offset":0.956,"color":"#555555"},{"offset":1,"color":"#555555"}]}},{"test":"datum.g==='AS-IV'","value":{"gradient":"linear","x1":0,"y1":0,"x2":0,"y2":1,"stops":[{"offset":0,"color":"#8c8c8c"},{"offset":0.07,"color":"#8c8c8c"},{"offset":0.07,"color":"#333333"},{"offset":0.1,"color":"#333333"},{"offset":0.1,"color":"#8c8c8c"},{"offset":0.17,"color":"#8c8c8c"},{"offset":0.17,"color":"#333333"},{"offset":0.2,"color":"#333333"},{"offset":0.2,"color":"#8c8c8c"},{"offset":0.27,"color":"#8c8c8c"},{"offset":0.27,"color":"#333333"},{"offset":0.3,"color":"#333333"},{"offset":0.3,"color":"#8c8c8c"},{"offset":0.37,"color":"#8c8c8c"},{"offset":0.37,"color":"#333333"},{"offset":0.4,"color":"#333333"},{"offset":0.4,"color":"#8c8c8c"},{"offset":0.47,"color":"#8c8c8c"},{"offset":0.47,"color":"#333333"},{"offset":0.5,"color":"#333333"},{"offset":0.5,"color":"#8c8c8c"},{"offset":0.57,"color":"#8c8c8c"},{"offset":0.57,"color":"#333333"},{"offset":0.6,"color":"#333333"},{"offset":0.6,"color":"#8c8c8c"},{"offset":0.67,"color":"#8c8c8c"},{"offset":0.67,"color":"#333333"},{"offset":0.7,"color":"#333333"},{"offset":0.7,"color":"#8c8c8c"},{"offset":0.77,"color":"#8c8c8c"},{"offset":0.77,"color":"#333333"},{"offset":0.8,"color":"#333333"},{"offset":0.8,"color":"#8c8c8c"},{"offset":0.87,"color":"#8c8c8c"},{"offset":0.87,"color":"#333333"},{"offset":0.9,"color":"#333333"},{"offset":0.9,"color":"#8c8c8c"},{"offset":0.97,"color":"#8c8c8c"},{"offset":0.97,"color":"#333333"},{"offset":1,"color":"#333333"}]}}],"value":"#000000"}}},
{"mark":{"type":"rule","color":"#000","strokeWidth":1.5},"encoding":{"y2":{"field":"t"}}},
{"mark":{"type":"tick","color":"#000","size":15,"thickness":1.5},"encoding":{"y":{"field":"t","type":"quantitative"}}},
{"mark":{"type":"text","color":"#000","baseline":"bottom","dy":-2,"fontSize":10},"encoding":{"y":{"field":"t","type":"quantitative"},"text":{"field":"s"}}},
{"transform":[{"filter":"datum.g==='WT'"}],"mark":{"type":"rule","color":"#000","strokeWidth":1,"xOffset":-5,"x2Offset":5,"clip":false},"encoding":{"x":{"datum":"Veh"},"x2":{"datum":"AS-IV"},"y":{"datum":-2.95}}},
{"transform":[{"filter":"datum.g==='WT'"}],"mark":{"type":"text","color":"#000","fontStyle":"italic","fontSize":11,"baseline":"middle","clip":false},"encoding":{"x":{"datum":"Ben"},"y":{"datum":-4.26},"text":{"value":"db/db"}}}
]}
],"spacing":39,"bounds":"flush"}
],
"config":{
"font":"Liberation Sans",
"view":{"stroke":null},
"axis":{"domainColor":"#000","domainWidth":1.5,"tickColor":"#000","tickWidth":1.5,"tickSize":4,"labelColor":"#000","labelFontSize":11,"labelPadding":2,"titleFontSize":11,"titleFontWeight":"normal","titleColor":"#000","grid":false},
"axisX":{"labelAngle":0,"labelPadding":1},
"axisY":{"titleBaseline":"middle"},
"title":{"fontSize":17,"fontWeight":"normal","anchor":"start","frame":"group","offset":0,"color":"#000"}
}
}
